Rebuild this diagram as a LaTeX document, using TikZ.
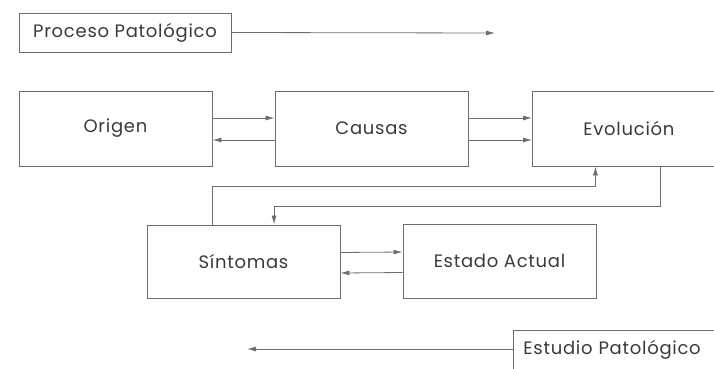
\documentclass[tikz,border=0pt]{standalone}
\usepackage{fontspec}
\setmainfont[LetterSpace=4]{Poppins}
\usetikzlibrary{arrows.meta}
\definecolor{lnGray}{HTML}{6E6E6E}
\definecolor{txGray}{HTML}{3A3A3A}

\begin{document}
\begin{tikzpicture}[x=1pt,y=-1pt,
    caja/.style={draw=lnGray,line width=0.9pt,minimum width=193pt,minimum height=75pt,
      inner sep=0pt,text=txGray,font=\fontsize{18}{20}\selectfont},
    etiqueta/.style={draw=lnGray,line width=0.9pt,minimum width=212pt,minimum height=39pt,
      inner sep=0pt,text=txGray,font=\fontsize{18}{20}\selectfont},
    flecha/.style={draw=lnGray,line width=0.8pt,-{Latex[length=9pt,width=5pt]}}]
  \useasboundingbox (0,0) rectangle (714,369);
  \node[etiqueta] (proceso) at (125,32.5) {Proceso Patológico};
  \node[caja] (origen) at (115.5,128.5) {Origen};
  \node[caja] (causas) at (371.5,128.5) {Causas};
  \node[caja,anchor=west] (evolucion) at (532,128.5) {Evolución};
  \node[caja,minimum height=73pt] (sintomas) at (243.5,261.5) {Síntomas};
  \node[caja,minimum height=74pt] (estado) at (499.5,261) {Estado Actual};
  \node[etiqueta,anchor=west,text width=200pt,inner xsep=10pt,align=left] (estudio)
    at (513,349.5) {Estudio Patológico};
  \coordinate (finProceso) at (495,33);
  \coordinate (finEstudio) at (247,349);
  \draw[flecha] (proceso.east) -- (finProceso);
  \draw[flecha] (estudio.west |- finEstudio) -- (finEstudio);
  % ida y vuelta entre las cajas de cada fila
  \draw[flecha] ([yshift=10.5pt]origen.east) -- ([yshift=10.5pt]causas.west);
  \draw[flecha] ([yshift=-11.5pt]causas.west) -- ([yshift=-11.5pt]origen.east);
  \draw[flecha] ([yshift=10.5pt]causas.east) -- ([yshift=10.5pt]evolucion.west);
  \draw[flecha] ([yshift=-11.5pt]causas.east) -- ([yshift=-11.5pt]evolucion.west);
  \draw[flecha] ([yshift=9pt]sintomas.east) -- ([yshift=9pt]estado.west);
  \draw[flecha] ([yshift=-11.5pt]estado.west) -- ([yshift=-11.5pt]sintomas.east);
  \draw[flecha] ([xshift=-31.5pt]sintomas.north) -- ++(0,-38) -| ([xshift=-33.5pt]evolucion.south);
  \draw[flecha] ([xshift=31.5pt]evolucion.south) -- ++(0,40) -| ([xshift=30.5pt]sintomas.north);
\end{tikzpicture}
\end{document}
